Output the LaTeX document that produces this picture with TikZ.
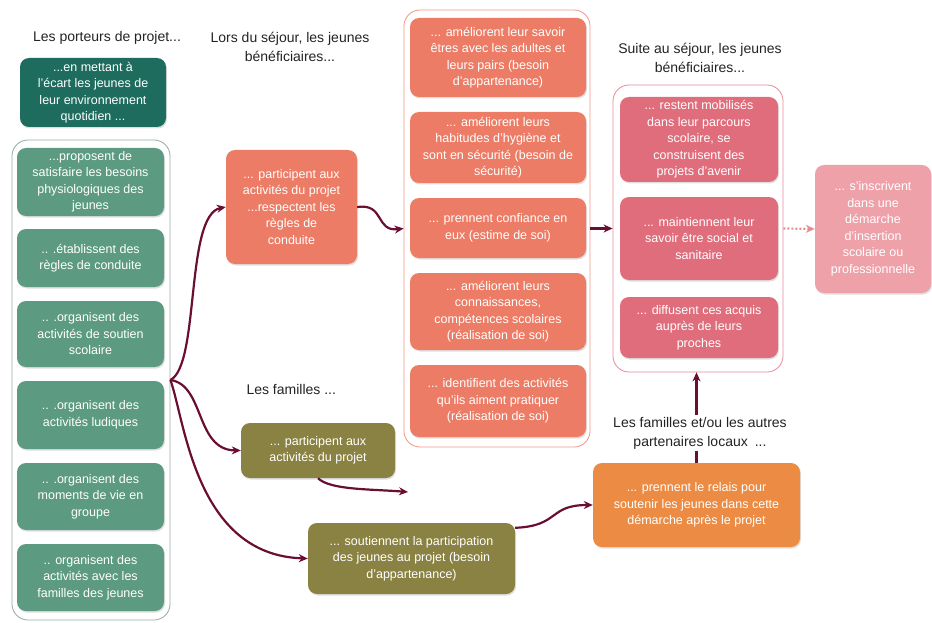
\documentclass[tikz,border=0pt]{standalone}
\usepackage{fontspec}
\setmainfont{Liberation Sans}
\usetikzlibrary{arrows.meta, shadows}
\usepackage{xcolor}
\definecolor{tealdark}{RGB}{30, 108, 94}
\definecolor{tealmid}{RGB}{92, 154, 130}
\definecolor{salmon}{RGB}{236, 124, 101}
\definecolor{olive}{RGB}{138, 130, 66}
\definecolor{rosebox}{RGB}{224, 109, 124}
\definecolor{rosepale}{RGB}{239, 161, 170}
\definecolor{orangebox}{RGB}{236, 139, 67}
\definecolor{linkred}{RGB}{106, 15, 51}
\definecolor{greyline}{RGB}{150, 170, 162}
\definecolor{salmonline}{RGB}{238, 150, 135}
\definecolor{roseline}{RGB}{230, 140, 150}
\definecolor{titlegrey}{RGB}{35, 35, 35}

\begin{document}
\begin{tikzpicture}[x=1pt, y=-1pt,
    box/.style={rounded corners=9pt, text=white, align=center, inner sep=3pt,
        font=\fontsize{12.5}{16.5}\selectfont,
        drop shadow={opacity=0.25, shadow xshift=1pt, shadow yshift=-1.5pt}},
    group/.style={draw, rounded corners=16pt, line width=0.8pt},
    heading/.style={text=titlegrey, align=center, font=\fontsize{14}{19}\selectfont},
    link/.style={-{Stealth[length=9pt, width=8pt]}, linkred, line width=2.2pt}]
    % Page - 932 x 623, origin top left
    \useasboundingbox (0, 0) rectangle (932, 623);

    % Frames around the columns
    \node[group, draw=greyline, minimum width=158pt, minimum height=480pt]
        (grpleft) at (91, 380) {};
    \node[group, draw=salmonline, minimum width=186pt, minimum height=437pt]
        (grpmid) at (497, 228.5) {};
    \node[group, draw=roseline, minimum width=170pt, minimum height=287pt]
        (grpright) at (698, 228.5) {};

    % Project leaders
    \node[heading] (porteurs) at (107, 38) {Les porteurs de projet...};
    \node[box, fill=tealdark, minimum width=146pt, minimum height=69pt]
        (ecart) at (93, 92.5) {...en mettant à\\l’écart les jeunes de\\leur environnement\\quotidien ...};
    \node[box, fill=tealmid, minimum width=147pt, minimum height=68pt]
        (besoins) at (90.5, 182) {...proposent de\\satisfaire les besoins\\physiologiques des\\jeunes};
    \node[box, fill=tealmid, minimum width=147pt, minimum height=58pt]
        (regles) at (90.5, 258) {.. .établissent des\\règles de conduite};
    \node[box, fill=tealmid, minimum width=147pt, minimum height=66pt]
        (soutien) at (90.5, 334) {.. .organisent des\\activités de soutien\\scolaire};
    \node[box, fill=tealmid, minimum width=147pt, minimum height=68pt]
        (ludiques) at (90.5, 415) {.. .organisent des\\activités ludiques};
    \node[box, fill=tealmid, minimum width=147pt, minimum height=67pt]
        (groupe) at (90.5, 496.5) {.. .organisent des\\moments de vie en\\groupe};
    \node[box, fill=tealmid, minimum width=147pt, minimum height=67pt]
        (familles) at (90.5, 577.5) {.. organisent des\\activités avec les\\familles des jeunes};

    % During the stay
    \node[heading] (lors) at (290, 47) {Lors du séjour, les jeunes\\bénéficiaires...};
    \node[box, fill=salmon, minimum width=131pt, minimum height=114pt]
        (part) at (291.5, 207) {... participent aux\\activités du projet\\...respectent les\\règles de\\conduite};
    \node[box, fill=salmon, minimum width=176pt, minimum height=79pt]
        (savoir) at (498, 57.5) {... améliorent leur savoir\\êtres avec les adultes et\\leurs pairs (besoin\\d’appartenance)};
    \node[box, fill=salmon, minimum width=176pt, minimum height=71pt]
        (hygiene) at (498, 147.5) {... améliorent leurs\\habitudes d’hygiène et\\sont en sécurité (besoin de\\sécurité)};
    \node[box, fill=salmon, minimum width=176pt, minimum height=60pt]
        (confiance) at (498, 228) {... prennent confiance en\\eux (estime de soi)};
    \node[box, fill=salmon, minimum width=176pt, minimum height=77pt]
        (connaiss) at (498, 311.5) {... améliorent leurs\\connaissances,\\compétences scolaires\\(réalisation de soi)};
    \node[box, fill=salmon, minimum width=176pt, minimum height=72pt]
        (identif) at (498, 401) {... identifient des activités\\qu’ils aiment pratiquer\\(réalisation de soi)};

    % Families
    \node[heading, anchor=west] (famtitre) at (243, 389) {Les familles ...};
    \node[box, fill=olive, minimum width=154pt, minimum height=55pt]
        (fampart) at (318, 450.5) {... participent aux\\activités du projet};
    \node[box, fill=olive, minimum width=207pt, minimum height=71pt]
        (famsout) at (411.5, 558.5) {... soutiennent la participation\\des jeunes au projet (besoin\\d’appartenance)};
    \coordinate (famend) at (408, 492);

    % After the stay
    \node[heading] (suite) at (700, 58) {Suite au séjour, les jeunes\\bénéficiaires...};
    \node[box, fill=rosebox, minimum width=158pt, minimum height=85pt]
        (mobilises) at (699, 139.5) {... restent mobilisés\\dans leur parcours\\scolaire, se\\construisent des\\projets d’avenir};
    \node[box, fill=rosebox, minimum width=158pt, minimum height=83pt]
        (maintien) at (699, 238.5) {... maintiennent leur\\savoir être social et\\sanitaire};
    \node[box, fill=rosebox, minimum width=158pt, minimum height=61pt]
        (diffusent) at (699, 327.5) {... diffusent ces acquis\\auprès de leurs\\proches};
    \node[box, fill=rosepale, minimum width=116pt, minimum height=128pt]
        (insertion) at (873, 229) {... s’inscrivent\\dans une\\démarche\\d’insertion\\scolaire ou\\professionnelle};

    % Local partners
    \node[box, fill=orangebox, minimum width=207pt, minimum height=84pt]
        (relais) at (696.5, 505) {... prennent le relais pour\\soutenir les jeunes dans cette\\démarche après le projet};
    \draw[link] (relais.north) -- (relais.north |- grpright.south);
    \node[heading, fill=white, inner sep=2pt] (partenaires) at (700, 433)
        {Les familles et/ou les autres\\partenaires locaux\enspace...};

    % Arrows
    \draw[link] (grpleft.east) .. controls (200, 365) and (185, 215) .. (part.west);
    \draw[link] (grpleft.east) .. controls (205, 385) and (195, 450) .. (fampart.west);
    \draw[link] (grpleft.east) .. controls (185, 420) and (195, 555) .. (famsout.west);
    \draw[link] (part.east) .. controls (385, 203) and (375, 232) .. (grpmid.west);
    \draw[link] (fampart.south) .. controls (330, 490) and (370, 489) .. (famend);
    \draw[link] ([yshift=-5pt]famsout.north east) .. controls (560, 526) and (548, 505) .. (relais.west);
    \draw[link] (grpmid.east) -- (grpright.west);
    \draw[link, roseline, dash pattern=on 2pt off 2pt] (grpright.east) -- (insertion.west);

\end{tikzpicture}
\end{document}
